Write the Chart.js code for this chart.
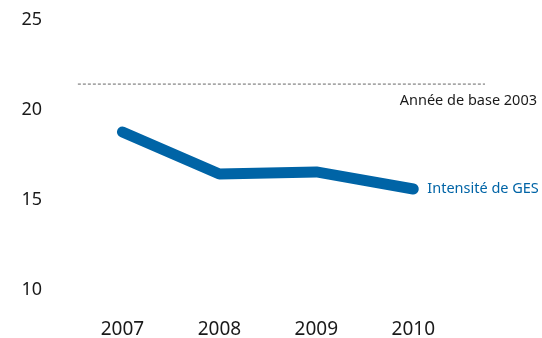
<!DOCTYPE html>
<html>
<head>
<meta charset="utf-8">
<script src="https://cdn.jsdelivr.net/npm/chart.js@4/dist/chart.umd.min.js"></script>
<style>
  html, body { margin: 0; padding: 0; background: #fff; }
  #wrap { width: 542px; height: 338px; }
</style>
</head>
<body>
<div id="wrap"><canvas id="ghgChart"></canvas></div>
<script>
// Data
const years = [2007, 2008, 2009, 2010];
const intensity = [18.78, 16.44, 16.56, 15.61];
const baseYearValue = 21.44;
const baseLineRange = [2006.54, 2010.74];
const yTicks = [10, 15, 20, 25];

const seriesLabel = "Intensité de GES";
const baseLabel = "Année de base 2003";

const BLUE = "#0064a6";

const endLabels = {
  id: "endLabels",
  afterDatasetsDraw(chart) {
    const { ctx, scales } = chart;
    const x = scales.x;
    const y = scales.y;
    ctx.save();
    ctx.font = "14.5px 'Noto Sans', sans-serif";
    ctx.textBaseline = "middle";

    // series label next to the last point
    ctx.fillStyle = BLUE;
    ctx.textAlign = "left";
    const lastX = x.getPixelForValue(years[years.length - 1]);
    const lastY = y.getPixelForValue(intensity[intensity.length - 1]);
    ctx.fillText(seriesLabel, lastX + 14, lastY);

    // base year label under the dashed line
    ctx.fillStyle = "#1a1a1a";
    ctx.textAlign = "right";
    ctx.fillText(baseLabel, chart.width - 5, y.getPixelForValue(baseYearValue) + 17);
    ctx.restore();
  },
};

new Chart(document.getElementById("ghgChart"), {
  type: "line",
  data: {
    datasets: [
      {
        label: seriesLabel,
        data: years.map((yr, i) => ({ x: yr, y: intensity[i] })),
        borderColor: BLUE,
        borderWidth: 11,
        borderCapStyle: "round",
        borderJoinStyle: "round",
        pointRadius: 0,
        tension: 0,
      },
      {
        label: baseLabel,
        data: baseLineRange.map((x) => ({ x: x, y: baseYearValue })),
        borderColor: "#666666",
        borderWidth: 1,
        borderDash: [3, 2],
        pointRadius: 0,
      },
    ],
  },
  options: {
    responsive: true,
    maintainAspectRatio: false,
    animation: false,
    layout: { padding: { top: 20, right: 57, left: 0, bottom: 0 } },
    plugins: {
      legend: { display: false },
      tooltip: { enabled: false },
    },
    scales: {
      x: {
        type: "linear",
        min: 2006.17,
        max: baseLineRange[1],
        grid: { display: false, drawTicks: false },
        border: { display: false },
        afterBuildTicks: (scale) => {
          scale.ticks = years.map((v) => ({ value: v }));
        },
        afterFit: (scale) => {
          scale.height = 48;
        },
        ticks: {
          padding: 28,
          color: "#1a1a1a",
          font: { family: "'Noto Sans', sans-serif", size: 19 },
          callback: (v) => String(v),
        },
      },
      y: {
        min: 10,
        max: 25,
        grid: { display: false, drawTicks: false },
        border: { display: false },
        afterBuildTicks: (scale) => {
          scale.ticks = yTicks.map((v) => ({ value: v }));
        },
        afterFit: (scale) => {
          scale.width = 42;
        },
        ticks: {
          padding: 0,
          color: "#1a1a1a",
          font: { family: "'Noto Sans', sans-serif", size: 18 },
        },
      },
    },
  },
  plugins: [endLabels],
});
</script>
</body>
</html>
